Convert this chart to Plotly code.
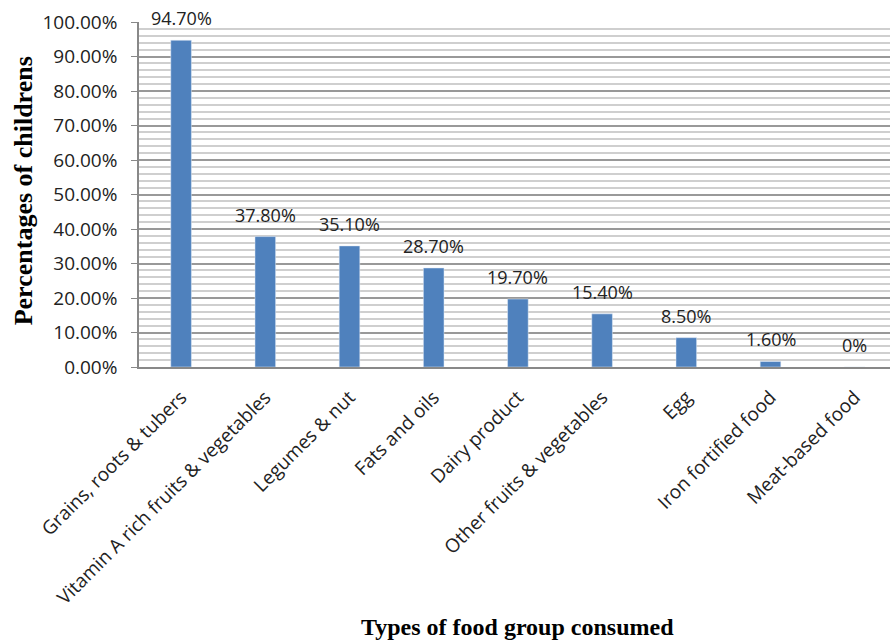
import plotly.graph_objects as go

categories = ["Grains, roots & tubers", "Vitamin A rich fruits & vegetables", "Legumes & nut",
              "Fats and oils", "Dairy product", "Other fruits & vegetables", "Egg",
              "Iron fortified food", "Meat-based food"]
values = [94.7, 37.8, 35.1, 28.7, 19.7, 15.4, 8.5, 1.6, 0.0]
value_labels = ["94.70%", "37.80%", "35.10%", "28.70%", "19.70%", "15.40%", "8.50%", "1.60%", "0%"]
y_tick_vals = [0, 10, 20, 30, 40, 50, 60, 70, 80, 90, 100]
y_tick_text = ["0.00%", "10.00%", "20.00%", "30.00%", "40.00%", "50.00%", "60.00%",
               "70.00%", "80.00%", "90.00%", "100.00%"]

FONT = "'Open Sans', sans-serif"
SERIF = "'Liberation Serif', 'Times New Roman', serif"
x_idx = list(range(len(categories)))

fig = go.Figure()
fig.add_trace(go.Bar(x=x_idx, y=values, marker_color="#4F81BD", width=0.245,
                     hoverinfo="skip", cliponaxis=False))

for i, (v, t) in enumerate(zip(values, value_labels)):
    fig.add_annotation(x=i, y=v, text=t, showarrow=False, yanchor="bottom", yshift=8,
                       font=dict(family=FONT, size=18, color="#222"))

fig.add_annotation(xref="paper", yref="paper", x=(517.7 - 139) / 751, y=(642 - 627 - 275) / 345,
                   text="<b>Types of food group consumed</b>", showarrow=False,
                   font=dict(family=SERIF, size=24, color="black"), yanchor="middle")
fig.add_annotation(xref="paper", yref="paper", x=(23 - 139) / 751, y=(366.7 - 191) / 345,
                   text="<b>Percentages of childrens</b>", showarrow=False, textangle=-90,
                   font=dict(family=SERIF, size=26, color="black"), xanchor="center")

fig.update_layout(
    width=890, height=642,
    margin=dict(l=139, r=0, t=22, b=275),
    plot_bgcolor="white", paper_bgcolor="white",
    showlegend=False,
    xaxis=dict(range=[-0.5, -0.5 + 751 / 84.2], tickvals=x_idx, ticktext=categories,
               tickangle=-45, showline=True, linecolor="#888", linewidth=1.5,
               showgrid=False, zeroline=False, ticks="",
               tickfont=dict(family=FONT, size=19, color="#222"), ticklabelstandoff=10),
    yaxis=dict(range=[0, 100], tickvals=y_tick_vals, ticktext=y_tick_text,
               showline=True, linecolor="#888", linewidth=1.5, ticks="outside", ticklen=6,
               tickcolor="#888", showgrid=True, gridcolor="#999", gridwidth=1.5,
               zeroline=False, tickfont=dict(family=FONT, size=19, color="#222"),
               ticklabelstandoff=10,
               minor=dict(dtick=2, showgrid=True, gridcolor="#cfcfcf", gridwidth=1.5)),
)

fig.write_html("out.html")
